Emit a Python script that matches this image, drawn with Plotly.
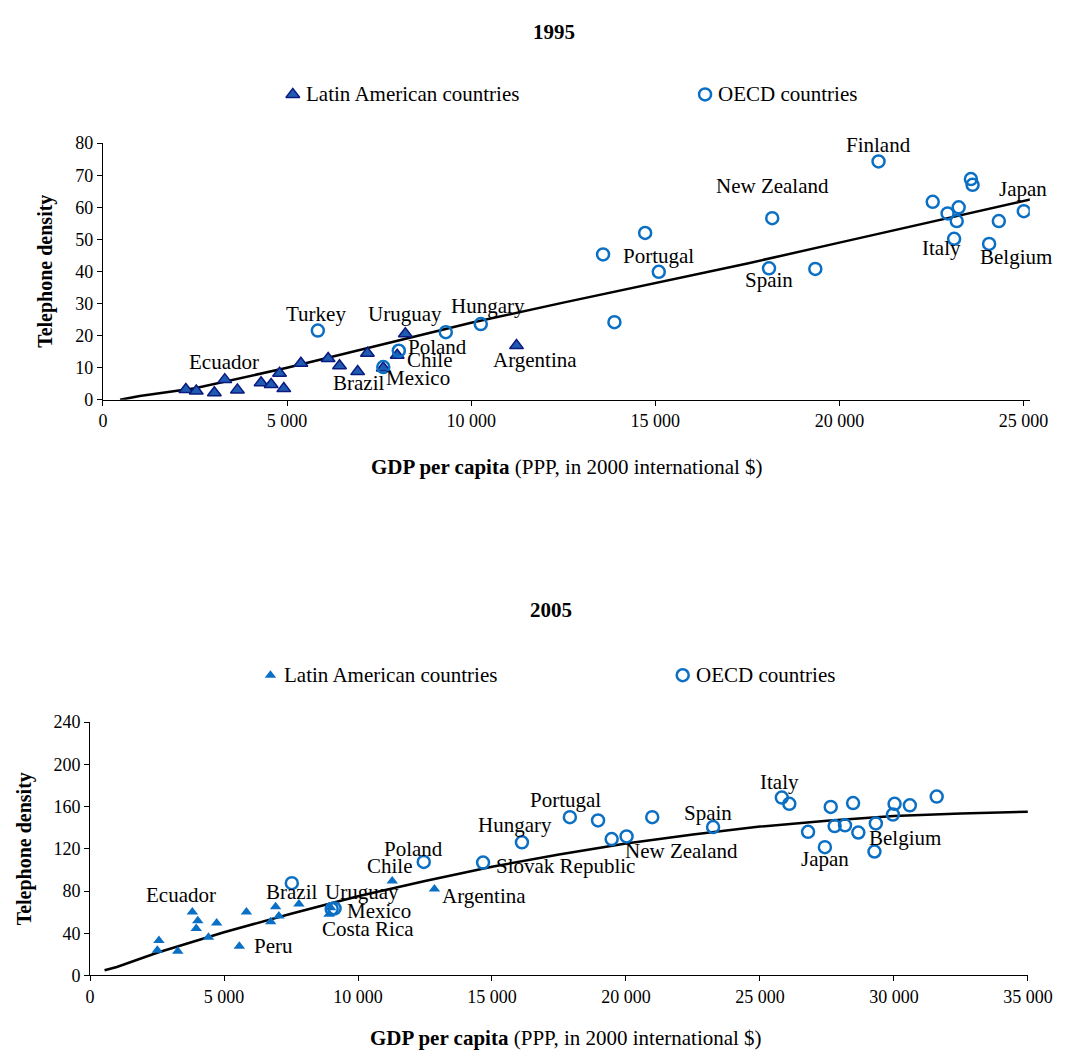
import plotly.graph_objects as go

W, H = 1084, 1063
FONT = "Liberation Serif, Times New Roman, serif"

# ---------------- 1995 data ----------------
la95_x = [2252, 2535, 3026, 3309, 3652, 4294, 4568, 4796, 4912, 5376, 6116, 6425, 6918, 7182, 7613, 7991, 8212, 11231]
la95_y = [3.2, 2.75, 2.2, 6.3, 3.1, 5.3, 4.8, 8.3, 3.5, 11.4, 12.9, 10.6, 8.8, 14.5, 9.9, 13.9, 20.6, 16.9]
oecd95_x = [5836, 7613, 8035, 9311, 10261, 13890, 13581, 14724, 15094, 18175, 18088, 19345, 21062,
            23570, 23615, 22533, 22937, 23238, 23185, 23114, 24328, 24064, 25007]
oecd95_y = [21.6, 10.2, 15.3, 21.1, 23.6, 24.2, 45.3, 52.0, 39.9, 56.6, 41.0, 40.8, 74.3,
            68.8, 67.0, 61.7, 58.1, 60.0, 55.7, 50.2, 55.7, 48.6, 58.8]
trend95_x = [465, 1000, 2500, 5000, 7500, 10000, 12500, 15000, 17500, 20000, 22500, 25400]
trend95_y = [0, 1.2, 3.6, 10.0, 17.0, 24.0, 30.3, 36.3, 42.5, 49.0, 55.6, 63.0]
labels95 = ["Turkey", "Ecuador", "Uruguay", "Hungary", "Poland", "Chile", "Brazil", "Mexico", "Argentina",
            "Portugal", "New Zealand", "Spain", "Finland", "Japan", "Italy", "Belgium"]
labels95_x = [5791, 3282, 8194, 10465, 9092, 8880, 6953, 8563, 11732, 15087, 18175, 18096, 21056, 24988, 22770, 24803]
labels95_y = [26.7, 11.7, 26.7, 29.1, 16.6, 12.4, 5.3, 6.8, 12.4, 44.7, 66.5, 37.4, 79.3, 65.8, 47.2, 44.4]

# ---------------- 2005 data ----------------
la05_x = [2569, 2511, 3273, 3817, 4020, 3962, 4419, 4724, 5570, 5835, 6923, 7046, 6742, 7794, 8980, 8919, 11277, 12852]
la05_y = [33.2, 23.9, 22.9, 60.1, 51.8, 44.6, 36.2, 49.6, 27.6, 60.1, 65.1, 56.4, 50.8, 67.8, 64.1, 57.9, 89.5, 81.8]
oecd05_x = [7529, 9017, 9125, 12453, 14666, 16118, 17906, 18958, 19466, 20022, 20980, 23251, 25816, 26096,
            26796, 27424, 27642, 27787, 28175, 28476, 28672, 29325, 29274, 30025, 29964, 30595, 31597]
oecd05_y = [87.4, 63.0, 63.5, 107.5, 106.9, 126.1, 149.9, 146.8, 129.2, 131.7, 149.9, 140.6, 168.5, 162.6,
            136.0, 121.5, 159.6, 141.5, 142.2, 163.3, 135.4, 144.0, 117.4, 162.6, 152.4, 161.1, 169.4]
trend05_x = [540, 1000, 2500, 5000, 7500, 10000, 12500, 15000, 17500, 20000, 22500, 25000, 27500, 30000, 32500, 35000]
trend05_y = [5.0, 8.0, 21.5, 41.0, 58.5, 75.0, 89.5, 103.0, 114.5, 125.0, 133.5, 141.0, 146.5, 151.0, 153.5, 155.0]
labels05 = ["Ecuador", "Peru", "Brazil", "Uruguay", "Mexico", "Costa Rica", "Chile", "Poland", "Argentina",
            "Slovak Republic", "Hungary", "Portugal", "New Zealand", "Spain", "Italy", "Japan", "Belgium"]
labels05_x = [3393, 6840, 7529, 10142, 10795, 10360, 11194, 12065, 14713, 17725, 15875, 17725, 22079, 23059, 25744, 27413, 30425]
labels05_y = [76.2, 27.9, 79.0, 79.0, 61.3, 43.7, 104.1, 119.9, 75.3, 104.1, 142.2, 166.3, 118.0, 154.2, 183.0, 110.6, 130.1]

x_ticks95 = [0, 5000, 10000, 15000, 20000, 25000]
x_ticks05 = [0, 5000, 10000, 15000, 20000, 25000, 30000, 35000]
x_ticktext95 = ["0", "5 000", "10 000", "15 000", "20 000", "25 000"]
x_ticktext05 = ["0", "5 000", "10 000", "15 000", "20 000", "25 000", "30 000", "35 000"]
y_ticks95 = [0, 10, 20, 30, 40, 50, 60, 70, 80]
y_ticks05 = [0, 40, 80, 120, 160, 200, 240]

CIRC = "#0B6FC4"
TRI_TOP_FILL = "#1F5BB0"
TRI_TOP_LINE = "#0A1A80"
TRI_BOT = "#0A70C6"

fig = go.Figure()

# 1995
fig.add_trace(go.Scatter(x=trend95_x, y=trend95_y, mode="lines", line=dict(color="black", width=2.5),
                         xaxis="x", yaxis="y", showlegend=False, hoverinfo="skip"))
fig.add_trace(go.Scatter(x=la95_x, y=la95_y, mode="markers", xaxis="x", yaxis="y", showlegend=False,
                         marker=dict(symbol="triangle-up", size=12, color=TRI_TOP_FILL,
                                     line=dict(color=TRI_TOP_LINE, width=1.5))))
fig.add_trace(go.Scatter(x=oecd95_x, y=oecd95_y, mode="markers", xaxis="x", yaxis="y", showlegend=False,
                         marker=dict(symbol="circle-open", size=12, color=CIRC, line=dict(width=2.5))))

# 2005
fig.add_trace(go.Scatter(x=trend05_x, y=trend05_y, mode="lines", line=dict(color="black", width=2.5),
                         xaxis="x2", yaxis="y2", showlegend=False, hoverinfo="skip"))
fig.add_trace(go.Scatter(x=la05_x, y=la05_y, mode="markers", xaxis="x2", yaxis="y2", showlegend=False,
                         marker=dict(symbol="triangle-up", size=10, color=TRI_BOT)))
fig.add_trace(go.Scatter(x=oecd05_x, y=oecd05_y, mode="markers", xaxis="x2", yaxis="y2", showlegend=False,
                         marker=dict(symbol="circle-open", size=12, color=CIRC, line=dict(width=2.5))))

# legend markers on a pixel overlay axis
fig.add_trace(go.Scatter(x=[296], y=[86], mode="markers", xaxis="x3", yaxis="y3", showlegend=False,
                         marker=dict(symbol="triangle-up", size=12, color=TRI_TOP_FILL,
                                     line=dict(color=TRI_TOP_LINE, width=1.5)), hoverinfo="skip"))
fig.add_trace(go.Scatter(x=[720, 697], y=[86, 678], mode="markers", xaxis="x3", yaxis="y3", showlegend=False,
                         marker=dict(symbol="circle-open", size=12, color=CIRC, line=dict(width=2.5)), hoverinfo="skip"))
fig.add_trace(go.Scatter(x=[273], y=[678], mode="markers", xaxis="x3", yaxis="y3", showlegend=False,
                         marker=dict(symbol="triangle-up", size=10, color=TRI_BOT), hoverinfo="skip"))

def px_x(p):
    return p / W

def px_y(p):
    return 1 - p / H

axis_common = dict(showline=True, linecolor="black", linewidth=1, ticks="outside", ticklen=5,
                   tickcolor="black", showgrid=False, zeroline=False,
                   tickfont=dict(family=FONT, size=18, color="black"))

annotations = []
for t, x, y in zip(labels95, labels95_x, labels95_y):
    annotations.append(dict(text=t, x=x, y=y, xref="x", yref="y", showarrow=False,
                            font=dict(family=FONT, size=21, color="black")))
for t, x, y in zip(labels05, labels05_x, labels05_y):
    annotations.append(dict(text=t, x=x, y=y, xref="x2", yref="y2", showarrow=False,
                            font=dict(family=FONT, size=21, color="black")))

def paper_text(text, px, py, size=21, xanchor="center", angle=0):
    annotations.append(dict(text=text, x=px_x(px), y=px_y(py), xref="paper", yref="paper",
                            showarrow=False, xanchor=xanchor, yanchor="middle", textangle=angle,
                            font=dict(family=FONT, size=size, color="black")))

paper_text("<b>1995</b>", 565, 22)
paper_text("<b>2005</b>", 562, 612)
paper_text("Latin American countries", 308, 86, xanchor="left")
paper_text("OECD countries", 731, 86, xanchor="left")
paper_text("Latin American countries", 285, 678, xanchor="left")
paper_text("OECD countries", 709, 678, xanchor="left")
paper_text("<b>Telephone density</b>", 42, 266, size=20, angle=-90)
paper_text("<b>Telephone density</b>", 20, 855, size=20, angle=-90)
paper_text("<b>GDP per capita</b> (PPP, in 2000 international $)", 578, 466)
paper_text("<b>GDP per capita</b> (PPP, in 2000 international $)", 577, 1048)

fig.update_layout(
    width=W, height=H,
    margin=dict(l=0, r=0, t=0, b=0),
    paper_bgcolor="white", plot_bgcolor="rgba(0,0,0,0)",
    xaxis=dict(domain=[px_x(100.7), px_x(1054)], range=[0, 25170], anchor="y",
               tickvals=x_ticks95, ticktext=x_ticktext95, **axis_common),
    yaxis=dict(domain=[px_y(397.3), px_y(135.7)], range=[0, 80], anchor="x",
               tickvals=y_ticks95, **axis_common),
    xaxis2=dict(domain=[px_x(87.5), px_x(1052)], range=[0, 35000], anchor="y2",
                tickvals=x_ticks05, ticktext=x_ticktext05, **axis_common),
    yaxis2=dict(domain=[px_y(984), px_y(725.7)], range=[0, 240], anchor="x2",
                tickvals=y_ticks05, **axis_common),
    xaxis3=dict(domain=[0, 1], range=[0, W], visible=False, anchor="y3"),
    yaxis3=dict(domain=[0, 1], range=[H, 0], visible=False, anchor="x3"),
    annotations=annotations,
)

fig.write_html("out.html")
